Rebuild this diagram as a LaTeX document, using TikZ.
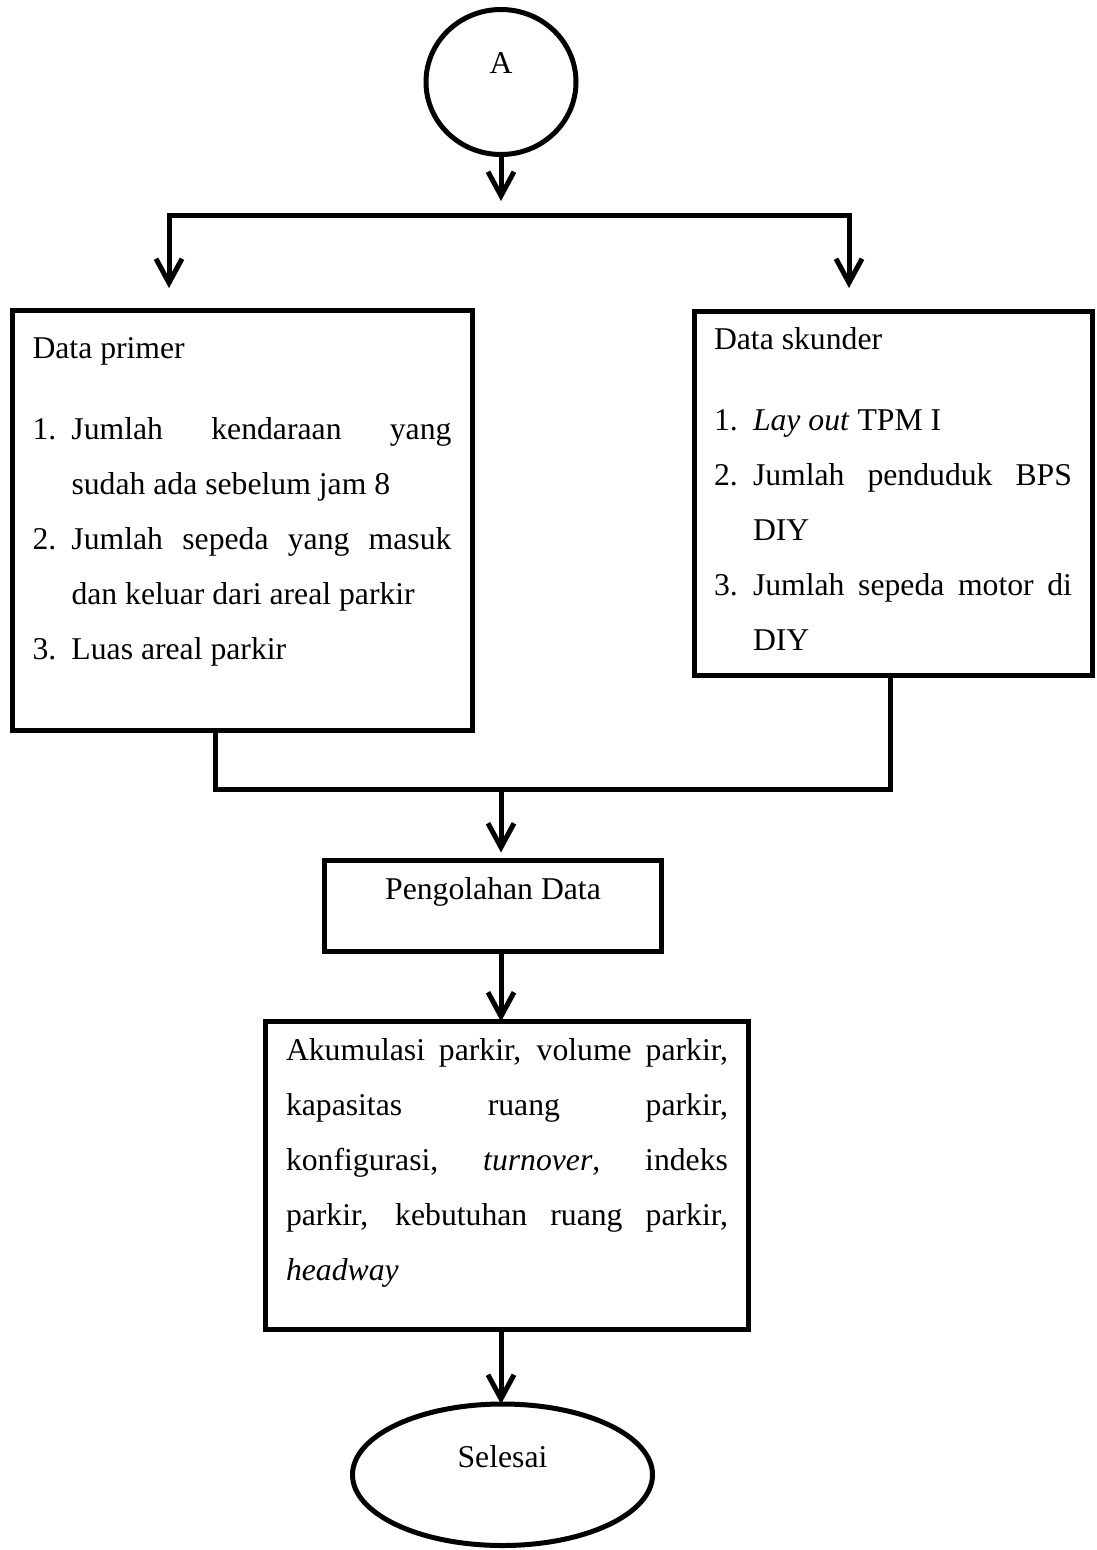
\documentclass[tikz,border=0pt]{standalone}
\usepackage{fontspec}
\setmainfont{Liberation Serif}
\usetikzlibrary{arrows.meta,positioning,shapes.geometric}

\newcommand{\lnum}[1]{\makebox[39pt][l]{#1}}
\newcommand{\spreadline}[2]{\makebox[#1][s]{#2}}

\begin{document}
\begin{tikzpicture}[x=1pt,y=1pt,
    Box/.style={rectangle,draw,line width=5pt,inner sep=0pt,outer sep=0pt},
    Oval/.style={ellipse,draw,line width=5pt,inner sep=0pt,outer sep=0pt},
    Line/.style={line width=5pt,line join=miter},
    Arrow/.style={Line,-{Straight Barb[length=24pt,width=26pt,line width=5pt]}},
    TwoWay/.style={Line,{Straight Barb[length=24pt,width=26pt,line width=5pt]}-{Straight Barb[length=24pt,width=26pt,line width=5pt]}},
    font=\fontsize{31.7pt}{55pt}\selectfont]
  \useasboundingbox (0,0) rectangle (1097,-1550);
  % nodes
  \node[Oval,minimum width=150pt,minimum height=145pt] (A) at (501,-82) {\raisebox{9pt}[0pt][0pt]{A}};
  \node[Box,anchor=north west,minimum width=460pt] (Primer) at (12,-310) {\parbox[c][420pt][t]{419pt}{%
    \vspace*{10pt}\strut Data primer\\[26pt]
    \strut\lnum{1.}\spreadline{380pt}{Jumlah kendaraan yang}\\
    \strut\hspace*{39pt}sudah ada sebelum jam 8\\
    \strut\lnum{2.}\spreadline{380pt}{Jumlah sepeda yang masuk}\\
    \strut\hspace*{39pt}dan keluar dari areal parkir\\
    \strut\lnum{3.}Luas areal parkir}};
  \node[Box,anchor=north west,minimum width=398pt] (Skunder) at (694,-311) {\parbox[c][364pt][t]{358pt}{%
    \strut Data skunder\\[26pt]
    \strut\lnum{1.}\textit{Lay out} TPM I\\
    \strut\lnum{2.}\spreadline{319pt}{Jumlah penduduk BPS}\\
    \strut\hspace*{39pt}DIY\\
    \strut\lnum{3.}\spreadline{319pt}{Jumlah sepeda motor di}\\
    \strut\hspace*{39pt}DIY}};
  \node[Box,minimum width=337pt] (Olah) at (493,-906) {\parbox[c][91pt][t]{337pt}{\centering\strut Pengolahan Data}};
  \node[Box,minimum width=483pt] (Hasil) [below=70pt of Olah,xshift=14pt] {\parbox[c][308pt][t]{442pt}{%
    \strut\spreadline{442pt}{Akumulasi parkir, volume parkir,}\\
    \strut\spreadline{442pt}{kapasitas ruang parkir,}\\
    \strut\spreadline{442pt}{konfigurasi, \textit{turnover}, indeks}\\
    \strut\spreadline{442pt}{parkir, kebutuhan ruang parkir,}\\
    \strut\textit{headway}}};
  \node[Oval,minimum width=300pt,minimum height=141.5pt] (Selesai) [below=74.5pt of Hasil,xshift=-4.5pt] {\raisebox{7pt}[0pt][0pt]{Selesai}};
  % junctions
  \coordinate (split) at (501,-215);
  \coordinate (inL) at (169,-288);
  \coordinate (inR) at (849,-288);
  \coordinate (join) at (501,-789);
  % connections
  \draw[Arrow] (A) -- ([yshift=14pt]split);
  \draw[TwoWay] (inL) |- (split) -| (inR);
  \draw[Line] ([xshift=-27pt]Primer.south) |- (join) -| ([xshift=-3pt]Skunder.south);
  \draw[Arrow,shorten >=8pt] (join) -- (join |- Olah.north);
  \draw[Arrow] (Olah.south -| join) -- (Hasil.north -| join);
  \draw[Arrow] (Hasil.south -| join) -- (Selesai.north -| join);
\end{tikzpicture}
\end{document}
